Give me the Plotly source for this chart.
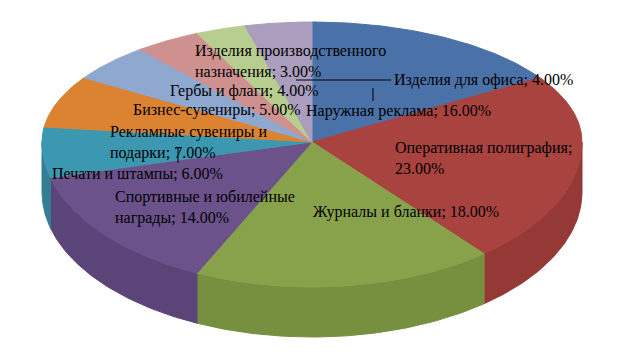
import numpy as np
import plotly.graph_objects as go

# ---- data ----
categories = [
    "Наружная реклама",
    "Оперативная полиграфия",
    "Журналы и бланки",
    "Спортивные и юбилейные награды",
    "Печати и штампы",
    "Рекламные сувениры и подарки",
    "Бизнес-сувениры",
    "Гербы и флаги",
    "Изделия производственного назначения",
    "Изделия для офиса",
]
values = [16, 23, 18, 14, 6, 7, 5, 4, 3, 4]

top_colors = ["#4A72A8", "#A8433F", "#88A24B", "#6B528B", "#3C97B0",
              "#DB8331", "#8FA8D0", "#CE918F", "#B8CD90", "#AA9DBD"]
side_colors = ["#3E6190", "#943936", "#77903F", "#5B4578", "#327F95",
               "#BD6F28", "#7A92B8", "#B47C7A", "#A0B47B", "#9386A6"]

# label wrapping (display only)
wrap = {
    "Изделия производственного назначения": "Изделия производственного<br>назначения",
    "Рекламные сувениры и подарки": "Рекламные сувениры и<br>подарки",
    "Спортивные и юбилейные награды": "Спортивные и юбилейные<br>награды",
}
label_sep = {"Оперативная полиграфия": ";<br>"}

# label anchor positions (left edge, vertical middle) in pixels
label_pos = [(304, 111), (393, 158), (311, 212), (113, 207), (50, 173),
             (108, 142), (131, 110), (168, 91), (193, 61), (392, 80)]

# ---- geometry of the tilted pie ----
W, H = 624, 362
OFF = 8  # page body margin
cx, cy = 312, 142
rx, ry_top, ry_bot = 270, 120, 145
depth = 50


def ell(theta_deg):
    t = np.radians(theta_deg)
    s = np.sin(t)
    ry = np.where(s > 0, ry_top, ry_bot)
    return cx + rx * np.cos(t), cy - ry * s


fig = go.Figure()

total = sum(values)
starts, ends = [], []
a = 90.0
for v in values:
    starts.append(a)
    a -= 360.0 * v / total
    ends.append(a)

# side faces (front half: angles in [-180, 0])
for i, v in enumerate(values):
    lo = max(ends[i], -180.0)
    hi = min(starts[i], 0.0)
    if hi <= lo:
        continue
    th = np.linspace(hi, lo, 60)
    x, y = ell(th)
    xs = np.concatenate([x, x[::-1], x[:1]])
    ys = np.concatenate([y, y[::-1] + depth, y[:1]])
    fig.add_trace(go.Scatter(x=xs, y=ys, mode="lines", fill="toself",
                             fillcolor=side_colors[i],
                             line=dict(color=side_colors[i], width=1),
                             hoverinfo="skip", showlegend=False))

# top faces
for i, v in enumerate(values):
    th = np.linspace(starts[i], ends[i], 80)
    x, y = ell(th)
    xs = np.concatenate([[cx], x, [cx]])
    ys = np.concatenate([[cy], y, [cy]])
    fig.add_trace(go.Scatter(x=xs, y=ys, mode="lines", fill="toself",
                             fillcolor=top_colors[i],
                             line=dict(color=top_colors[i], width=1),
                             hoverinfo="skip", showlegend=False))

# labels
for i, (c, v) in enumerate(zip(categories, values)):
    name = wrap.get(c, c)
    sep = label_sep.get(c, "; ")
    txt = f"{name}{sep}{v:.2f}%"
    fig.add_annotation(x=label_pos[i][0], y=label_pos[i][1], text=txt,
                       xanchor="left", yanchor="middle", align="left",
                       showarrow=False,
                       font=dict(family="Liberation Serif", size=16, color="black"))

# leader lines
fig.add_shape(type="line", x0=296, y0=80, x1=391, y1=80, line=dict(color="black", width=1))
fig.add_shape(type="line", x0=373, y0=88, x1=373, y1=101, line=dict(color="black", width=1))
fig.add_shape(type="line", x0=178, y0=148, x1=178, y1=163, line=dict(color="black", width=1))

fig.update_layout(
    width=W, height=H,
    margin=dict(l=0, r=0, t=0, b=0),
    paper_bgcolor="white", plot_bgcolor="white",
    xaxis=dict(range=[OFF, W + OFF], visible=False, fixedrange=True),
    yaxis=dict(range=[H + OFF, OFF], visible=False, fixedrange=True),
    showlegend=False,
)

fig.write_html("out.html")
